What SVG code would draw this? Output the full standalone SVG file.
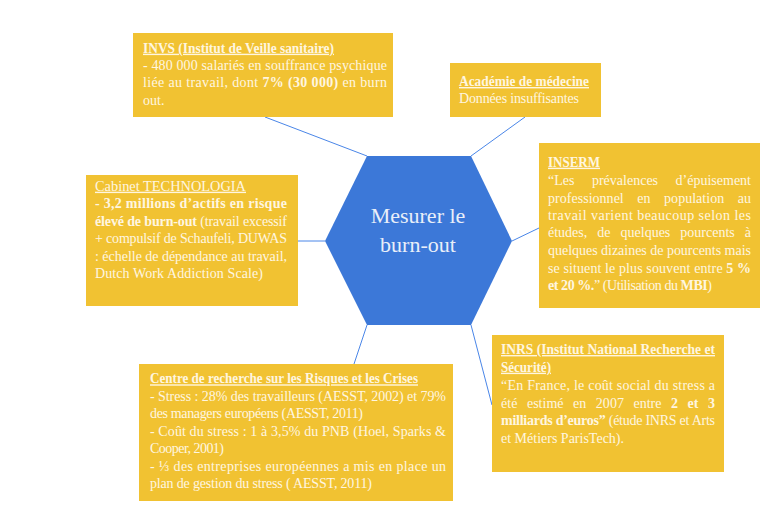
<svg xmlns="http://www.w3.org/2000/svg" width="765" height="520" viewBox="0 0 765 520">
<style>
.box{fill:#F1C232}
.t{font-family:"Liberation Serif","Times New Roman",serif;font-size:14px;fill:#FFF6E0}
.b{font-weight:bold}
.u{text-decoration:underline}
.conn line{stroke:#4A86E8;stroke-width:1}
.hex{fill:#3C78D8}
.ht{font-family:"Liberation Serif","Times New Roman",serif;font-size:22px;fill:#E9EFF9;text-anchor:middle}
</style>
<rect width="765" height="520" fill="#FFFFFF"/>
<g id="connectors" class="conn">
<line x1="367" y1="156" x2="265" y2="117"/>
<line x1="471" y1="156" x2="525" y2="117"/>
<line x1="512" y1="241" x2="539" y2="228"/>
<line x1="325" y1="241" x2="298" y2="241"/>
<line x1="367" y1="325" x2="354" y2="364"/>
<line x1="471" y1="325" x2="492" y2="405"/>
</g>
<g id="center">
<polygon class="hex" points="367,156 471,156 512,241 471,325 367,325 325,241"/>
<text class="ht" x="418" y="223">Mesurer le</text>
<text class="ht" x="418" y="252">burn-out</text>
</g>
<g id="invs">
<rect class="box" x="133" y="33" width="260" height="84"/>
<text class="t b u" x="143" y="52.7" textLength="191" lengthAdjust="spacingAndGlyphs">INVS (Institut de Veille sanitaire)</text>
<text class="t" x="143" y="70" textLength="244" lengthAdjust="spacing">- 480 000 salariés en souffrance psychique</text>
<text class="t" x="143" y="87.3" textLength="244" lengthAdjust="spacing">liée au travail, dont <tspan class="b">7% (30 000)</tspan> en burn</text>
<text class="t" x="143" y="104.5">out.</text>
</g>
<g id="academie">
<rect class="box" x="450" y="63" width="151" height="54"/>
<text class="t b u" x="459" y="86" textLength="130" lengthAdjust="spacingAndGlyphs">Académie de médecine</text>
<text class="t" x="459" y="103.3" textLength="120" lengthAdjust="spacing">Données insuffisantes</text>
</g>
<g id="inserm">
<rect class="box" x="539" y="143" width="221" height="165"/>
<text class="t b u" x="548" y="166.7" textLength="52" lengthAdjust="spacingAndGlyphs">INSERM</text>
<text class="t" x="548" y="185" word-spacing="14" textLength="203" lengthAdjust="spacing">“Les prévalences d’épuisement</text>
<text class="t" x="548" y="202.7" word-spacing="10" textLength="203" lengthAdjust="spacing">professionnel en population au</text>
<text class="t" x="548" y="220" textLength="203" lengthAdjust="spacing">travail varient beaucoup selon les</text>
<text class="t" x="548" y="237.3" word-spacing="6.5" textLength="203" lengthAdjust="spacing">études, de quelques pourcents à</text>
<text class="t" x="548" y="255" textLength="203" lengthAdjust="spacing">quelques dizaines de pourcents mais</text>
<text class="t" x="548" y="272.7" textLength="203" lengthAdjust="spacing">se situent le plus souvent entre <tspan class="b">5 %</tspan></text>
<text class="t" x="548" y="290" textLength="164" lengthAdjust="spacing"><tspan class="b">et 20 %.</tspan>” (Utilisation du <tspan class="b">MBI</tspan>)</text>
</g>
<g id="technologia">
<rect class="box" x="86" y="175" width="212" height="131"/>
<text class="t u" x="95" y="190.7" textLength="151" lengthAdjust="spacingAndGlyphs">Cabinet TECHNOLOGIA</text>
<text class="t b" x="95" y="208.3" textLength="192" lengthAdjust="spacing">- 3,2 millions d’actifs en risque</text>
<text class="t" x="95" y="226" textLength="192" lengthAdjust="spacing"><tspan class="b">élevé de burn-out</tspan> (travail excessif</text>
<text class="t" x="95" y="243.3" textLength="192" lengthAdjust="spacing">+ compulsif de Schaufeli, DUWAS</text>
<text class="t" x="95" y="261" textLength="192" lengthAdjust="spacing">: échelle de dépendance au travail,</text>
<text class="t" x="95" y="278.3" textLength="168" lengthAdjust="spacing">Dutch Work Addiction Scale)</text>
</g>
<g id="crc">
<rect class="box" x="139" y="364" width="314" height="137"/>
<text class="t b u" x="150" y="383.3" textLength="268" lengthAdjust="spacingAndGlyphs">Centre de recherche sur les Risques et les Crises</text>
<text class="t" x="150" y="401" textLength="296" lengthAdjust="spacing">- Stress : 28% des travailleurs (AESST, 2002) et 79%</text>
<text class="t" x="150" y="418.3" textLength="213" lengthAdjust="spacing">des managers européens (AESST, 2011)</text>
<text class="t" x="150" y="436" textLength="296" lengthAdjust="spacing">- Coût du stress : 1 à 3,5% du PNB (Hoel, Sparks &amp;</text>
<text class="t" x="150" y="453.3" textLength="74" lengthAdjust="spacing">Cooper, 2001)</text>
<text class="t" x="150" y="471" textLength="296" lengthAdjust="spacing">- ⅓ des entreprises européennes a mis en place un</text>
<text class="t" x="150" y="488.3" textLength="222" lengthAdjust="spacing">plan de gestion du stress ( AESST, 2011)</text>
</g>
<g id="inrs">
<rect class="box" x="492" y="335" width="232" height="137"/>
<text class="t b u" x="501" y="354" textLength="214" lengthAdjust="spacingAndGlyphs">INRS (Institut National Recherche et</text>
<text class="t b u" x="501" y="371.7" textLength="50" lengthAdjust="spacingAndGlyphs">Sécurité)</text>
<text class="t" x="501" y="390" textLength="214" lengthAdjust="spacing">“En France, le coût social du stress a</text>
<text class="t" x="501" y="407.7" word-spacing="6" textLength="214" lengthAdjust="spacing">été estimé en 2007 entre <tspan class="b">2 et 3</tspan></text>
<text class="t" x="501" y="425" textLength="214" lengthAdjust="spacing"><tspan class="b">milliards d’euros”</tspan> (étude INRS et Arts</text>
<text class="t" x="501" y="442.7" textLength="123" lengthAdjust="spacing">et Métiers ParisTech).</text>
</g>
</svg>
